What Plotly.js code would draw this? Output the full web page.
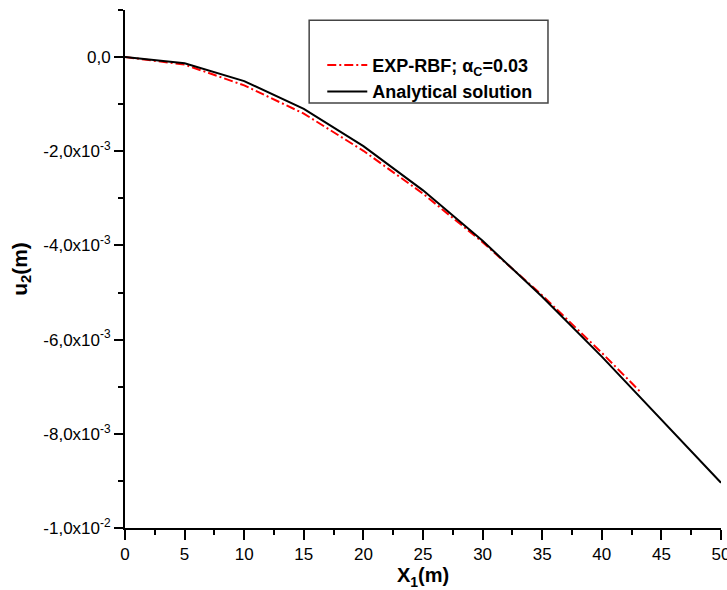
<!DOCTYPE html>
<html>
<head>
<meta charset="utf-8">
<script src="https://cdn.plot.ly/plotly-3.0.1.min.js"></script>
<style>html,body{margin:0;padding:0;background:#fff}#chart{width:727px;height:590px}</style>
</head>
<body>
<div id="chart"></div>
<script>
// Analytical solution
const xAnalytical = [0, 5, 10, 15, 20, 25, 30, 35, 40, 45, 50];
const yAnalytical = [0, -0.13e-3, -0.51e-3, -1.10e-3, -1.89e-3, -2.83e-3, -3.90e-3, -5.09e-3, -6.36e-3, -7.69e-3, -9.04e-3];
// EXP-RBF numerical solution
const xRBF = [0, 5, 10, 15, 20, 25, 30, 35, 40, 43.2];
const yRBF = [0, -0.16e-3, -0.60e-3, -1.20e-3, -1.99e-3, -2.90e-3, -3.93e-3, -5.06e-3, -6.28e-3, -7.10e-3];
// Tick labels
const xTicks = [0, 5, 10, 15, 20, 25, 30, 35, 40, 45, 50];
const yTickVals = [0, -0.002, -0.004, -0.006, -0.008, -0.01];
const yTickText = ['0,0', '-2,0x10<sup>-3</sup>', '-4,0x10<sup>-3</sup>', '-6,0x10<sup>-3</sup>', '-8,0x10<sup>-3</sup>', '-1,0x10<sup>-2</sup>'];

const font = 'Liberation Sans, Arial, sans-serif';

const traces = [
  {x: xRBF, y: yRBF, mode: 'lines', name: '<b>EXP-RBF; α<sub>C</sub>=0.03</b>',
   line: {color: '#ff0000', width: 2, dash: '9px,3px,2px,3px'}},
  {x: xAnalytical, y: yAnalytical, mode: 'lines', name: '<b>Analytical solution</b>',
   line: {color: '#000000', width: 2}}
];

const layout = {
  width: 727, height: 590,
  margin: {l: 125, r: 6, t: 10, b: 62},
  paper_bgcolor: '#fff', plot_bgcolor: '#fff',
  font: {family: font, color: '#000', size: 16},
  showlegend: true,
  legend: {x: 0.331, y: 0.929, xanchor: 'left', yanchor: 'top',
    borderwidth: 0, bgcolor: 'rgba(0,0,0,0)',
    font: {family: font, size: 18, color: '#000'}, tracegroupgap: 2, itemwidth: 40},
  shapes: [
    {type: 'rect', xref: 'paper', yref: 'paper', x0: 0.309, x1: 0.7097, y0: 0.8205, y1: 0.98,
     line: {color: '#444', width: 1.5}, fillcolor: 'rgba(0,0,0,0)', layer: 'above'}
  ],
  xaxis: {
    range: [0, 50], tickmode: 'array', tickvals: xTicks, ticktext: xTicks.map(String),
    ticks: 'outside', ticklen: 10, tickwidth: 2, tickcolor: '#000',
    showline: true, linecolor: '#000', linewidth: 2, mirror: false,
    showgrid: false, zeroline: false, ticklabeloverflow: 'allow',
    minor: {tickmode: 'linear', tick0: 0, dtick: 2.5, ticks: 'outside', ticklen: 5, tickwidth: 2, tickcolor: '#000', showgrid: false},
    tickfont: {size: 17},
    title: {text: '<b>X<sub>1</sub>(m)</b>', font: {size: 20}, standoff: 0}
  },
  yaxis: {
    range: [-0.01, 0.001], tickmode: 'array', tickvals: yTickVals, ticktext: yTickText,
    ticks: 'outside', ticklen: 9, tickwidth: 2, tickcolor: '#000',
    showline: true, linecolor: '#000', linewidth: 2, mirror: false,
    showgrid: false, zeroline: false,
    minor: {tickmode: 'linear', tick0: 0, dtick: 0.001, ticks: 'outside', ticklen: 5, tickwidth: 2, tickcolor: '#000', showgrid: false},
    tickfont: {size: 17},
    title: {text: '<b>u<sub>2</sub>(m)</b>', font: {size: 21}, standoff: 10}
  }
};

Plotly.newPlot('chart', traces, layout, {displayModeBar: false, staticPlot: true});
</script>
</body>
</html>
